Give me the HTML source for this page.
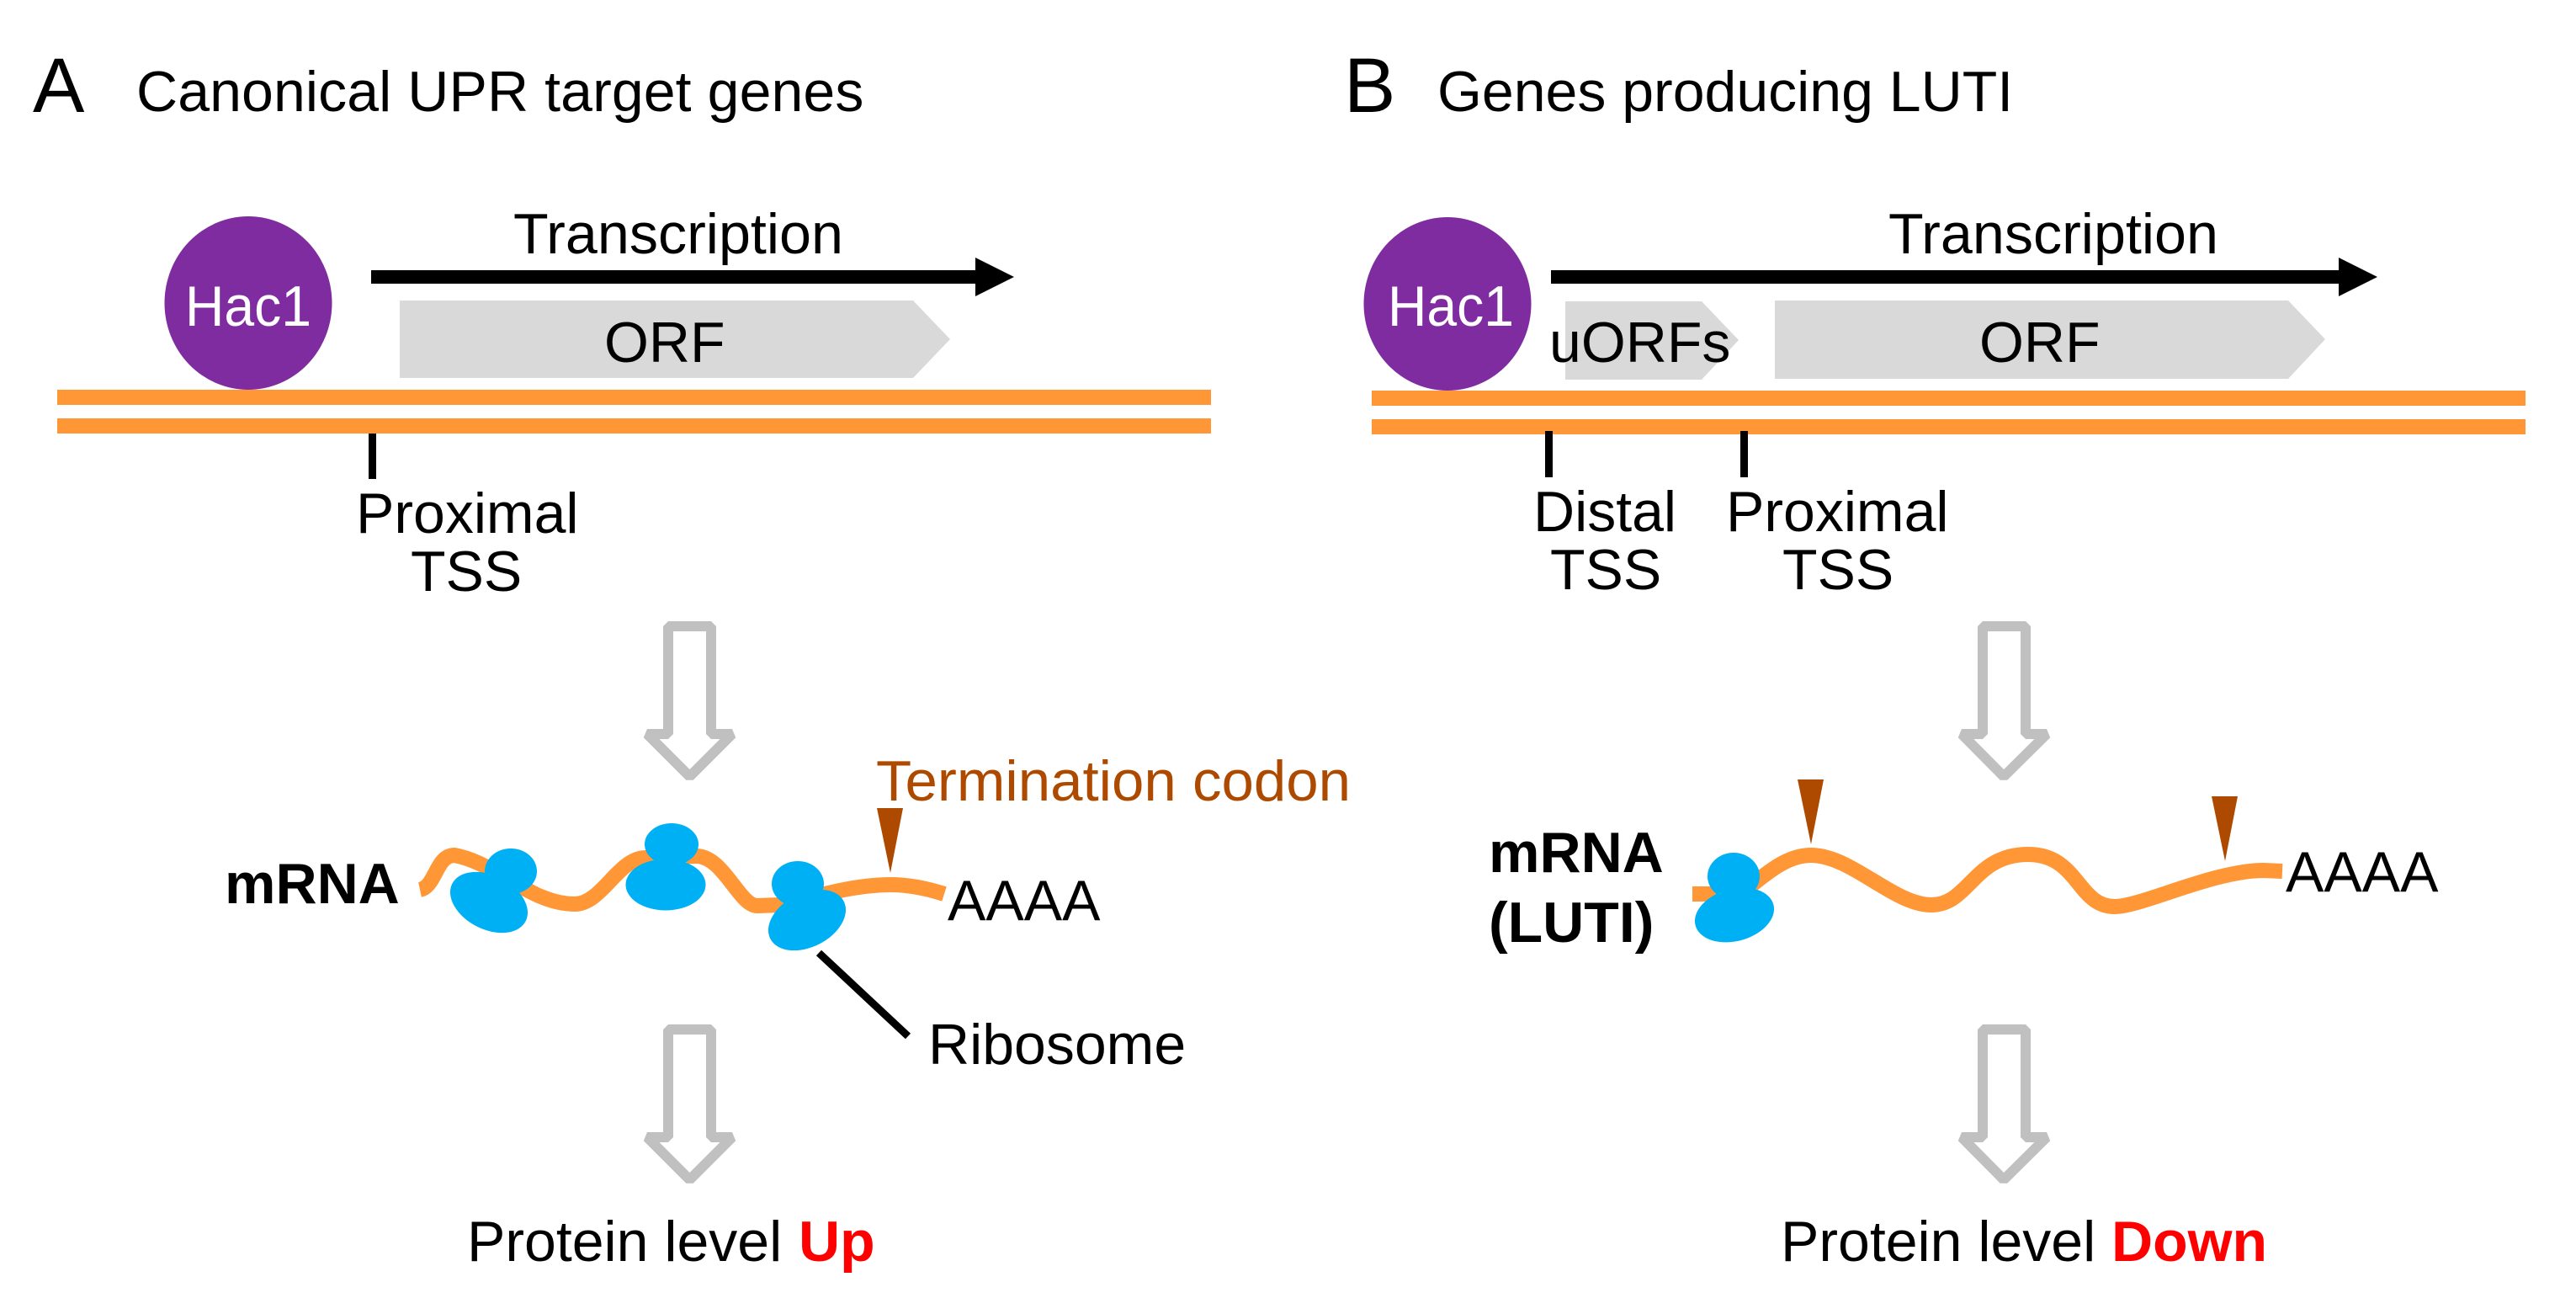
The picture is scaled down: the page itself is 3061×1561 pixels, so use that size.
<!DOCTYPE html>
<html><head><meta charset="utf-8"><style>
html,body{margin:0;padding:0;background:#fff}
svg{display:block}
text{font-family:"Liberation Sans",Arial,sans-serif;font-size:68px;fill:#000}
.b{font-weight:bold}
</style></head><body>
<svg width="3061" height="1561" viewBox="0 0 3061 1561" xmlns="http://www.w3.org/2000/svg">
<rect width="3061" height="1561" fill="#fff"/>
<!-- Panel A -->
<text x="39" y="133" style="font-size:92px">A</text>
<text x="162" y="132" style="letter-spacing:.1px">Canonical UPR target genes</text>
<ellipse cx="295" cy="360" rx="99.5" ry="103" fill="#7F2CA1"/>
<text x="220" y="387" style="fill:#fff" textLength="150" lengthAdjust="spacingAndGlyphs">Hac1</text>
<polygon points="441,321 1159,321 1159,306 1205,329 1159,352 1159,337 441,337" fill="#000"/>
<text x="610" y="301" textLength="392" lengthAdjust="spacingAndGlyphs">Transcription</text>
<polygon points="475,357 1085,357 1129,403 1085,449 475,449" fill="#d9d9d9"/>
<text x="718" y="430">ORF</text>
<rect x="68" y="463" width="1371" height="18" fill="#FF9737"/>
<rect x="68" y="497" width="1371" height="18" fill="#FF9737"/>
<rect x="438" y="515" width="9" height="54" fill="#000"/>
<text x="423" y="633">Proximal</text>
<text x="488" y="702">TSS</text>
<polygon points="794,744 845,744 845,872 870,872 819.5,922.5 769,872 794,872" fill="none" stroke="#c0c0c0" stroke-width="12" stroke-linejoin="bevel"/>
<path d="M499,1057 C518,1053 518,1016 540,1016 C590,1025 630,1074 683,1074 C715,1074 735,1019 767,1019 L827,1017 C860,1017 878,1076 900,1076 L927,1075 C960,1068 1010,1051 1058,1051 C1080,1051 1100,1055 1122,1062" fill="none" stroke="#FF9737" stroke-width="18"/>
<ellipse cx="607" cy="1035" rx="31" ry="27" fill="#00B0F5"/>
<ellipse cx="581" cy="1072" rx="49" ry="32" transform="rotate(27 581 1072)" fill="#00B0F5"/>
<ellipse cx="798" cy="1003" rx="32" ry="25" fill="#00B0F5"/>
<ellipse cx="791" cy="1051" rx="47.5" ry="30.5" fill="#00B0F5"/>
<ellipse cx="948" cy="1050" rx="31" ry="27" fill="#00B0F5"/>
<ellipse cx="959" cy="1093" rx="49" ry="32" transform="rotate(-27 959 1093)" fill="#00B0F5"/>
<text x="267" y="1073" class="b">mRNA</text>
<text x="1041" y="951" style="fill:#AE4A00" textLength="564" lengthAdjust="spacingAndGlyphs">Termination codon</text>
<polygon points="1042,960 1073,960 1058,1037" fill="#AE4A00"/>
<text x="1126" y="1093">AAAA</text>
<line x1="973" y1="1132" x2="1079" y2="1231" stroke="#000" stroke-width="9"/>
<text x="1103" y="1264">Ribosome</text>
<polygon points="794,1223 845,1223 845,1351 870,1351 819.5,1401.5 769,1351 794,1351" fill="none" stroke="#c0c0c0" stroke-width="12" stroke-linejoin="bevel"/>
<text x="555" y="1498">Protein level</text>
<text x="949" y="1498" class="b" style="fill:#f00">Up</text>
<!-- Panel B -->
<text x="1597" y="133" style="font-size:92px">B</text>
<text x="1708" y="132">Genes producing LUTI</text>
<ellipse cx="1720" cy="361" rx="99.5" ry="103" fill="#7F2CA1"/>
<text x="1649" y="387" style="fill:#fff" textLength="150" lengthAdjust="spacingAndGlyphs">Hac1</text>
<polygon points="1843,321 2779,321 2779,306 2825,329 2779,352 2779,337 1843,337" fill="#000"/>
<text x="2244" y="301" textLength="392" lengthAdjust="spacingAndGlyphs">Transcription</text>
<polygon points="1860,358 2022,358 2066,404 2022,451 1860,451" fill="#d9d9d9"/>
<text x="1841" y="430">uORFs</text>
<polygon points="2109,357 2719,357 2763,403 2719,450 2109,450" fill="#d9d9d9"/>
<text x="2352" y="430">ORF</text>
<rect x="1630" y="464" width="1371" height="18" fill="#FF9737"/>
<rect x="1630" y="498" width="1371" height="18" fill="#FF9737"/>
<rect x="1836" y="512" width="9" height="55" fill="#000"/>
<rect x="2068" y="512" width="9" height="55" fill="#000"/>
<text x="1822" y="631">Distal</text>
<text x="1842" y="700">TSS</text>
<text x="2051" y="631">Proximal</text>
<text x="2118" y="700">TSS</text>
<polygon points="2356,744 2407,744 2407,872 2432,872 2381,922.5 2331,872 2356,872" fill="none" stroke="#c0c0c0" stroke-width="12" stroke-linejoin="bevel"/>
<path d="M2011,1062 L2060,1062 L2070,1060 C2095,1042 2120,1016 2152,1016 C2200,1016 2250,1075 2295,1075 C2340,1075 2345,1015 2410,1015 C2470,1015 2468,1077 2513,1077 C2545,1077 2630,1034 2690,1034 L2712,1035" fill="none" stroke="#FF9737" stroke-width="18"/>
<ellipse cx="2060" cy="1041" rx="31" ry="28" fill="#00B0F5"/>
<ellipse cx="2061" cy="1087" rx="48" ry="31" transform="rotate(-15 2061 1087)" fill="#00B0F5"/>
<polygon points="2136,926 2167,926 2152,1003" fill="#AE4A00"/>
<polygon points="2628,946 2659,946 2644,1023" fill="#AE4A00"/>
<text x="1769" y="1036" class="b">mRNA</text>
<text x="1769" y="1119" class="b">(LUTI)</text>
<text x="2716" y="1059">AAAA</text>
<polygon points="2356,1223 2407,1223 2407,1351 2432,1351 2381,1401.5 2331,1351 2356,1351" fill="none" stroke="#c0c0c0" stroke-width="12" stroke-linejoin="bevel"/>
<text x="2116" y="1498">Protein level</text>
<text x="2509" y="1498" class="b" style="fill:#f00">Down</text>
</svg>
</body></html>
